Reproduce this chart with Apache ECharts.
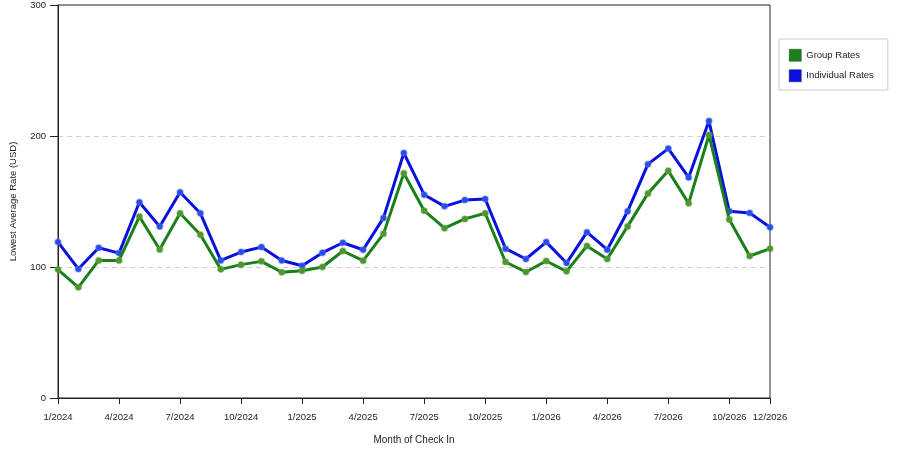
<!DOCTYPE html>
<html>
<head>
<meta charset="utf-8">
<script src="https://cdn.jsdelivr.net/npm/echarts@6/dist/echarts.min.js"></script>
<style>
  html, body { margin: 0; padding: 0; background: #fff; }
  #chart { width: 900px; height: 450px; }
</style>
</head>
<body>
<div id="chart"></div>
<script>
// months 1/2024 .. 12/2026
var months = [];
for (var yr = 2024; yr <= 2026; yr++) {
  for (var m = 1; m <= 12; m++) months.push(m + '/' + yr);
}

var groupRates = [98, 84.5, 105, 105, 138.5, 113.4, 141, 124.6, 98.2, 101.8, 104.3, 96,
  97.2, 100, 112.2, 104.8, 125.3, 171.5, 143, 129.6, 136.7, 141, 103.8, 96.2,
  104.6, 96.7, 116, 106.1, 131, 156.2, 173.4, 148.6, 200.8, 136.2, 108.4, 114];

var individualRates = [119, 98.5, 114.7, 110.6, 149.4, 130.9, 157, 141, 105, 111.4, 115.2, 105,
  101, 110.9, 118.5, 113.2, 137.5, 187, 155.2, 146.3, 151.1, 151.9, 114, 106.1,
  119, 103, 126.6, 113.2, 142.5, 178.5, 190.4, 168.4, 211.4, 142.5, 141.3, 130.4];

var yTicks = [0, 100, 200, 300];

var font = 'Liberation Sans, Arial, sans-serif';
var txt = '#222';

function showTick(i) {
  return i % 3 === 0 || i === months.length - 1;
}

var myChart = echarts.init(document.getElementById('chart'));

var option = {
  animation: false,
  backgroundColor: '#fff',
  textStyle: { fontFamily: font },
  grid: {
    left: 58, right: 130, top: 5, bottom: 50,
    show: true, borderColor: '#222', borderWidth: 1, backgroundColor: 'transparent'
  },
  legend: {
    orient: 'vertical',
    left: 779, top: 39,
    padding: [10, 14, 8, 10],
    itemWidth: 12, itemHeight: 12, itemGap: 8,
    borderColor: '#ccc', borderWidth: 1,
    icon: 'rect',
    data: [
      { name: 'Group Rates', itemStyle: { color: '#1a801a', borderColor: '#0d4d0d', borderWidth: 0.5 } },
      { name: 'Individual Rates', itemStyle: { color: '#0a10e0', borderColor: '#050880', borderWidth: 0.5 } }
    ],
    textStyle: { fontSize: 9.5, color: txt, fontFamily: font }
  },
  xAxis: {
    type: 'category',
    data: months,
    boundaryGap: false,
    name: 'Month of Check In',
    nameLocation: 'middle',
    nameGap: 37,
    nameTextStyle: { fontSize: 10, color: txt, fontFamily: font },
    axisLine: { lineStyle: { color: '#222', width: 1 } },
    axisTick: { interval: function (i) { return showTick(i); }, length: 6, lineStyle: { color: '#222' } },
    axisLabel: {
      interval: function (i) { return showTick(i); },
      fontSize: 9.5, color: txt, margin: 14, fontFamily: font
    },
    splitLine: { show: false }
  },
  yAxis: {
    type: 'value',
    min: yTicks[0], max: yTicks[yTicks.length - 1], interval: 100,
    name: 'Lowest Average Rate (USD)',
    nameLocation: 'middle',
    nameGap: 40,
    nameTextStyle: { fontSize: 9.5, color: txt, fontFamily: font },
    axisLine: { show: true, lineStyle: { color: '#222', width: 1 } },
    axisTick: { show: true, length: 8, lineStyle: { color: '#222' } },
    axisLabel: { fontSize: 9.5, color: txt, margin: 12, fontFamily: font },
    // no dashed line on the 0 and 300 edges, the frame covers those
    splitLine: { show: true, lineStyle: { color: ['transparent', '#d0d0d0', '#d0d0d0', 'transparent'], type: [5, 4], width: 1 } }
  },
  series: [
    {
      name: 'Individual Rates',
      type: 'line',
      data: individualRates,
      z: 2,
      symbol: 'circle',
      symbolSize: 6,
      lineStyle: { color: '#0a10e0', width: 3 },
      itemStyle: { color: '#2a4ae8', borderColor: 'rgba(80,120,240,0.45)', borderWidth: 1.5 }
    },
    {
      name: 'Group Rates',
      type: 'line',
      data: groupRates,
      z: 3,
      symbol: 'circle',
      symbolSize: 6,
      lineStyle: { color: '#1a801a', width: 3 },
      itemStyle: { color: '#4a9630', borderColor: 'rgba(110,160,60,0.45)', borderWidth: 1.5 }
    }
  ]
};

myChart.setOption(option);
</script>
</body>
</html>
